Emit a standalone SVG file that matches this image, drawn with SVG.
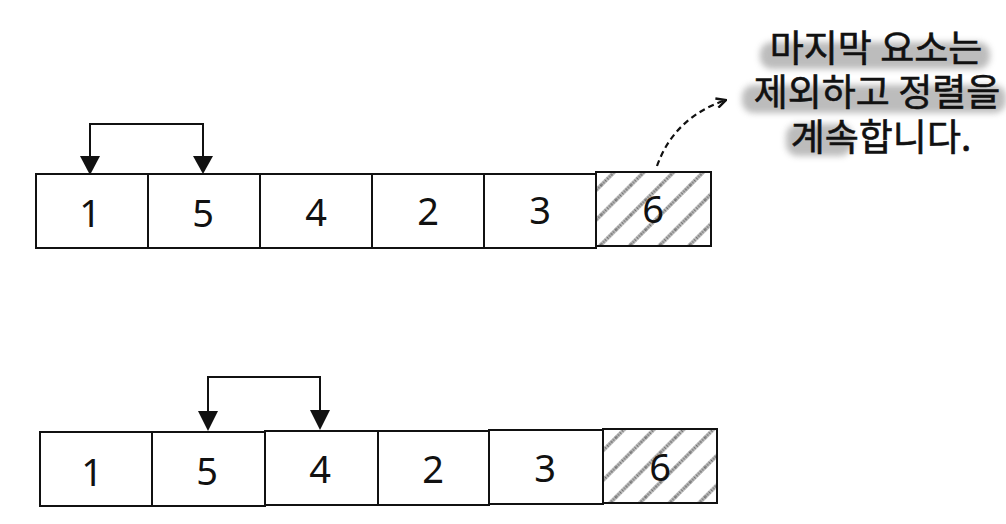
<svg xmlns="http://www.w3.org/2000/svg" width="1006" height="524" viewBox="0 0 1006 524">
  <defs>
    <pattern id="hatch" patternUnits="userSpaceOnUse" width="21" height="21" patternTransform="rotate(45)">
      <line x1="10" y1="0" x2="10" y2="21" stroke="#b8b8b8" stroke-width="3.5"/>
      <line x1="10" y1="0" x2="10" y2="21" stroke="#555" stroke-width="3" stroke-dasharray="0.8 2"/>
    </pattern>
    <marker id="chev" viewBox="0 0 10 10" refX="9" refY="5" markerWidth="12" markerHeight="12" markerUnits="userSpaceOnUse" orient="auto">
      <path d="M1,1 L9,5 L1,9" fill="none" stroke="#111" stroke-width="2"/>
    </marker>
    <filter id="soft" x="-10%" y="-30%" width="120%" height="160%">
      <feGaussianBlur stdDeviation="3"/>
    </filter>
  </defs>
  <style>
    .cell { fill: #fff; stroke: #111; stroke-width: 2; }
    .hcell { fill: url(#hatch); stroke: #111; stroke-width: 2; }
    .num { font-family: "Noto Sans", "Open Sans", sans-serif; font-size: 38px; fill: #111; text-anchor: middle; }
    .note { font-family: "Noto Sans CJK KR", sans-serif; font-size: 37px; font-weight: 400; fill: #111; text-anchor: middle; stroke: #111; stroke-width: 0.6; }
    .hl { fill: #a0a0a0; opacity: 0.7; filter: url(#soft); }
    .bracket { fill: none; stroke: #111; stroke-width: 2; }
    .head { fill: #111; }
  </style>
  <rect width="1006" height="524" fill="#fff"/>

  <!-- annotation -->
  <g id="note">
    <rect class="hl" x="760" y="42" width="230" height="27" rx="12"/>
    <rect class="hl" x="742" y="85" width="264" height="28" rx="12"/>
    <rect class="hl" x="786" y="124" width="66" height="32" rx="12"/>
    <text class="note" x="876" y="62">마지막 요소는</text>
    <text class="note" x="877" y="106">제외하고 정렬을</text>
    <text class="note" x="881" y="151">계속합니다.</text>
  </g>

  <!-- top row -->
  <g id="row1">
    <g id="r1c1"><rect class="cell" x="36" y="174" width="112" height="74"/><text class="num" x="90" y="227">1</text></g>
    <g id="r1c2"><rect class="cell" x="148" y="174" width="112" height="74"/><text class="num" x="203" y="227">5</text></g>
    <g id="r1c3"><rect class="cell" x="260" y="174" width="112" height="74"/><text class="num" x="316" y="226">4</text></g>
    <g id="r1c4"><rect class="cell" x="372" y="174" width="112" height="74"/><text class="num" x="428" y="225">2</text></g>
    <g id="r1c5"><rect class="cell" x="484" y="174" width="112" height="74"/><text class="num" x="540" y="224">3</text></g>
    <g id="r1c6"><rect class="hcell" x="596" y="172" width="115" height="74"/><text class="num" x="653" y="223">6</text></g>
  </g>

  <!-- bottom row -->
  <g id="row2">
    <g id="r2c1"><rect class="cell" x="40" y="432" width="112" height="74"/><text class="num" x="92" y="486">1</text></g>
    <g id="r2c2"><rect class="cell" x="152" y="432" width="113" height="74"/><text class="num" x="207" y="485">5</text></g>
    <g id="r2c3"><rect class="cell" x="265" y="431" width="113" height="74"/><text class="num" x="320" y="483">4</text></g>
    <g id="r2c4"><rect class="cell" x="378" y="431" width="111" height="74"/><text class="num" x="433" y="483">2</text></g>
    <g id="r2c5"><rect class="cell" x="489" y="430" width="114" height="74"/><text class="num" x="545" y="482">3</text></g>
    <g id="r2c6"><rect class="hcell" x="603" y="429" width="114" height="74"/><text class="num" x="660" y="481">6</text></g>
  </g>

  <!-- connectors -->
  <g id="connectors">
    <path class="bracket" d="M90,160 V124 H203 V160"/>
    <path class="head" d="M80,156 L100,156 L90,175 Z"/>
    <path class="head" d="M193,156 L213,156 L203,174 Z"/>
    <path class="bracket" d="M208,414 V377 H320 V414"/>
    <path class="head" d="M198,411 L218,411 L208,431 Z"/>
    <path class="head" d="M310,410 L330,410 L320,430 Z"/>
    <path fill="none" stroke="#111" stroke-width="2.2" stroke-dasharray="6 4" d="M657,166 C668,135 690,112 726,100" marker-end="url(#chev)"/>
  </g>
</svg>
